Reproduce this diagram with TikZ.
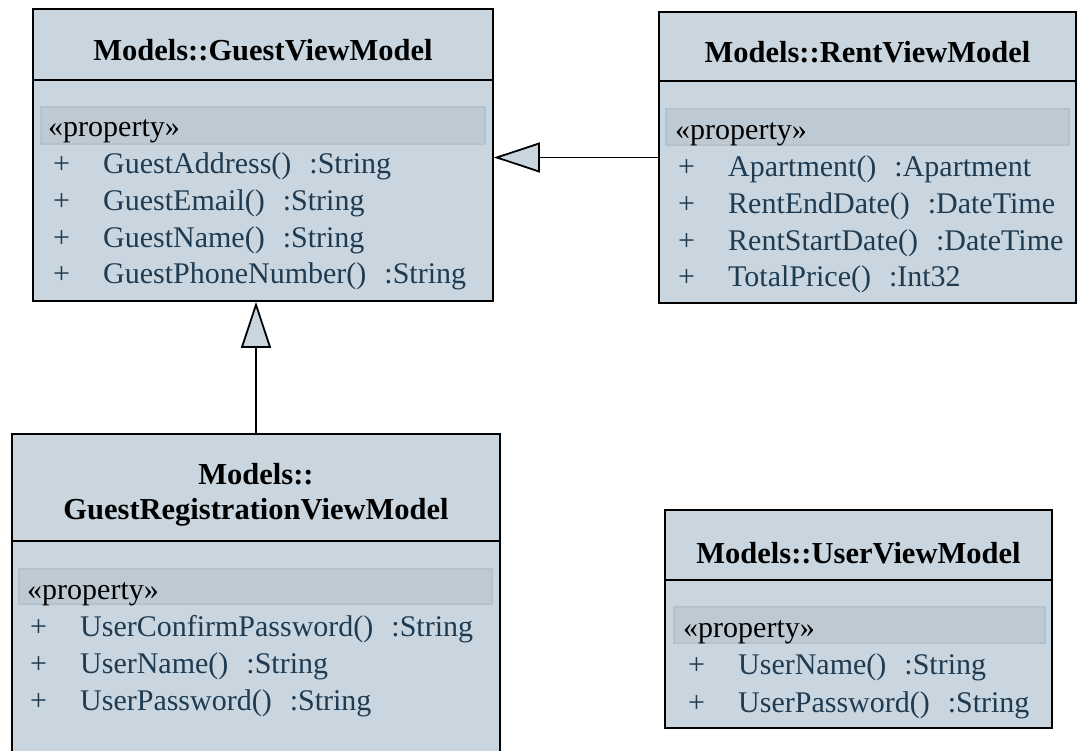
\documentclass[tikz,border=0pt]{standalone}
\usepackage{fontspec}
\setmainfont{Liberation Serif}
\usetikzlibrary{arrows.meta}
\definecolor{classfill}{HTML}{C9D6DF}
\definecolor{bandfill}{HTML}{BDCAD4}
\definecolor{bandline}{HTML}{B3C2CD}
\definecolor{membertext}{HTML}{1F3B52}
\newcommand{\memb}[1]{\makebox[50pt][l]{+}#1}
\newcommand{\typsep}{\hspace{0.6em}}

\begin{document}
\begin{tikzpicture}[x=1pt,y=-1pt,
  classbox/.style={draw=black, line width=1.8pt, fill=classfill, inner sep=0pt},
  classname/.style={font=\fontsize{30.5}{35}\selectfont\bfseries, align=center},
  band/.style={fill=bandfill, draw=bandline, line width=1.2pt},
  stereo/.style={anchor=base west, inner sep=0pt, font=\fontsize{30}{34}\selectfont},
  member/.style={anchor=base west, inner sep=0pt, text=membertext, font=\fontsize{30}{34}\selectfont},
  sep/.style={line width=1.8pt},
  inherit/.style={line width=1.8pt, -{Triangle[length=46pt, width=30pt, fill=classfill]}}]
  \useasboundingbox (0,0) rectangle (1078,751);
  \clip (0,0) rectangle (1078,751);

  \node[classbox, minimum width=460, minimum height=292] (guest) at (263,155) {};
  \node[classbox, minimum width=417, minimum height=291] (rent) at (867.5,157.5) {};
  \node[classbox, minimum width=488, minimum height=346] (reg) at (256,607) {};
  \node[classbox, minimum width=387, minimum height=218] (user) at (858.5,619) {};

  \draw[sep] (guest.west |- 0,80) -- (guest.east |- 0,80);
  \draw[sep] (rent.west |- 0,81) -- (rent.east |- 0,81);
  \draw[sep] (reg.west |- 0,541) -- (reg.east |- 0,541);
  \draw[sep] (user.west |- 0,580) -- (user.east |- 0,580);

  \path[band] (41,107) rectangle (485,144);
  \path[band] (666,109) rectangle (1069,145);
  \path[band] (19,569) rectangle (492,604);
  \path[band] (674,607) rectangle (1045,643);

  \node[classname] (guestname) at (263,50) {Models::GuestViewModel};
  \node[classname] (rentname) at (867.5,52) {Models::RentViewModel};
  \node[classname] (regname) at (256,494.5) {Models::\\GuestRegistrationViewModel};
  \node[classname] (username) at (858.5,553) {Models::UserViewModel};

  \node[stereo] (guestst) at (48,137) {«property»};
  \foreach \m [count=\i] in {GuestAddress()\typsep:String, GuestEmail()\typsep:String,
      GuestName()\typsep:String, GuestPhoneNumber()\typsep:String}
    \node[member] (guest-\i) at ({53},{137+36.7*\i}) {\memb{\m}};

  \node[stereo] (rentst) at (675,140) {«property»};
  \foreach \m [count=\i] in {Apartment()\typsep:Apartment, RentEndDate()\typsep:DateTime,
      RentStartDate()\typsep:DateTime, TotalPrice()\typsep:Int32}
    \node[member] (rent-\i) at ({678},{140+36.7*\i}) {\memb{\m}};

  \node[stereo] (regst) at (27,599) {«property»};
  \foreach \m [count=\i] in {UserConfirmPassword()\typsep:String, UserName()\typsep:String,
      UserPassword()\typsep:String}
    \node[member] (reg-\i) at ({30},{600+36.7*\i}) {\memb{\m}};

  \node[stereo] (userst) at (683,637) {«property»};
  \foreach \m [count=\i] in {UserName()\typsep:String, UserPassword()\typsep:String}
    \node[member] (user-\i) at ({688},{637+37.5*\i}) {\memb{\m}};

  \draw[inherit] (rent.west) -- (rent.west -| guest.east);
  \draw[inherit] (reg.north) -- (reg.north |- guest.south);
\end{tikzpicture}
\end{document}
